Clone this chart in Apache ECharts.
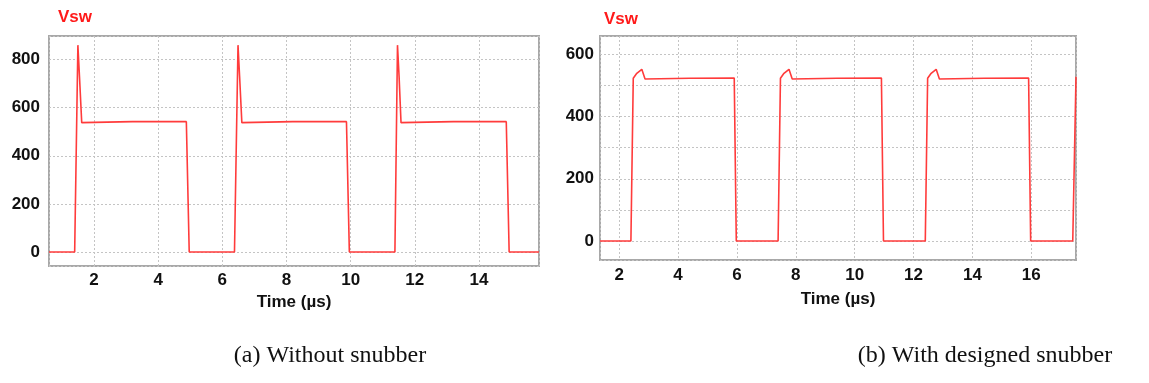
<!DOCTYPE html>
<html>
<head>
<meta charset="utf-8">
<style>
  html, body { margin: 0; padding: 0; background: #ffffff; }
  #chart { width: 1149px; height: 383px; }
</style>
<script src="https://cdn.jsdelivr.net/npm/echarts@6/dist/echarts.min.js"></script>
</head>
<body>
<div id="chart"></div>
<script>
// Switch-node voltage, panel (a): without snubber
const timeA = [0.6, 1.40, 1.50, 1.55, 1.62, 3.2, 4.88, 4.97, 6.38, 6.49, 6.54, 6.61, 8.2, 9.87, 9.96, 11.38, 11.46, 11.51, 11.57, 13.2, 14.85, 14.94, 15.87];
const vswA  = [0,   0,    860,  730,  538,  542, 542,  0,    0,    860,  730,  538,  542, 542,  0,    0,     860,   730,   538,   542,  542,   0,     0];

// Switch-node voltage, panel (b): with designed snubber
const timeB = [1.35, 2.40, 2.48, 2.60, 2.77, 2.88, 4.4, 5.91, 5.98, 7.40, 7.48, 7.60, 7.77, 7.88, 9.4, 10.91, 10.98, 12.40, 12.48, 12.60, 12.77, 12.88, 14.4, 15.91, 15.98, 17.41, 17.52];
const vswB  = [0,    0,    523,  539,  552,  521,  523, 524,  0,    0,    523,  539,  552,  521,  523, 524,   0,     0,     523,   539,   552,   521,   523,  524,   0,     0,     528];

const xRangeA = [0.6, 15.87];
const yRangeA = [-58, 898];
const xRangeB = [1.35, 17.52];
const yRangeB = [-61, 659];

const seriesName = 'Vsw';
const timeAxisName = 'Time (µs)';
const captionA = '(a) Without snubber';
const captionB = '(b) With designed snubber';

const pairs = (xs, ys) => xs.map((x, i) => [x, ys[i]]);

const labelFont = { color: '#111111', fontWeight: 'bold', fontSize: 17, fontFamily: 'Liberation Sans, Arial, sans-serif' };
const gridLine = { show: true, lineStyle: { color: '#c4c4c4', width: 1, type: [2, 2] } };

function valueXAxis(gridIndex, range, nameGap, margin) {
  return {
    type: 'value', gridIndex, min: range[0], max: range[1], splitNumber: 8,
    name: timeAxisName, nameLocation: 'middle', nameGap,
    nameTextStyle: Object.assign({}, labelFont),
    axisLine: { show: false }, axisTick: { show: false },
    axisLabel: Object.assign({ margin, showMinLabel: false, showMaxLabel: false }, labelFont),
    splitLine: gridLine
  };
}

function valueYAxis(gridIndex, range, splitNumber, margin, minor) {
  const ax = {
    type: 'value', gridIndex, min: range[0], max: range[1], splitNumber,
    axisLine: { show: false }, axisTick: { show: false },
    axisLabel: Object.assign({ margin, showMinLabel: false, showMaxLabel: false }, labelFont),
    splitLine: gridLine
  };
  if (minor) {
    ax.minorTick = { show: false, splitNumber: 2 };
    ax.minorSplitLine = { show: true, lineStyle: { color: '#c4c4c4', width: 1, type: [2, 2] } };
  }
  return ax;
}

const lineStyle = { color: '#ff3b3b', width: 1.6 };
const titleStyle = { color: '#ff1a1a', fontWeight: 'bold', fontSize: 17, fontFamily: 'Liberation Sans, Arial, sans-serif' };
const captionStyle = { fill: '#111111', fontSize: 24, fontFamily: 'Liberation Serif, Times New Roman, serif', align: 'center' };

const chart = echarts.init(document.getElementById('chart'), null, { renderer: 'canvas' });
chart.setOption({
  backgroundColor: '#ffffff',
  animation: false,
  title: [
    { text: seriesName, left: 58, top: 9, textStyle: titleStyle, padding: 0 },
    { text: seriesName, left: 604, top: 11, textStyle: titleStyle, padding: 0 }
  ],
  grid: [
    { left: 49, top: 36, width: 490, height: 230, show: true, borderColor: '#a8a8a8', borderWidth: 2, backgroundColor: 'transparent' },
    { left: 600, top: 36, width: 476, height: 224, show: true, borderColor: '#a8a8a8', borderWidth: 2, backgroundColor: 'transparent' }
  ],
  xAxis: [
    valueXAxis(0, xRangeA, 28, 6),
    valueXAxis(1, xRangeB, 31, 7)
  ],
  yAxis: [
    valueYAxis(0, yRangeA, 5, 9, false),
    valueYAxis(1, yRangeB, 4, 6, true)
  ],
  series: [
    { type: 'line', name: seriesName, xAxisIndex: 0, yAxisIndex: 0, data: pairs(timeA, vswA), showSymbol: false, lineStyle, clip: true },
    { type: 'line', name: seriesName, xAxisIndex: 1, yAxisIndex: 1, data: pairs(timeB, vswB), showSymbol: false, lineStyle, clip: true }
  ],
  graphic: [
    { type: 'text', x: 330, y: 344, style: Object.assign({ text: captionA }, captionStyle) },
    { type: 'text', x: 985, y: 344, style: Object.assign({ text: captionB }, captionStyle) }
  ]
});
</script>
</body>
</html>
